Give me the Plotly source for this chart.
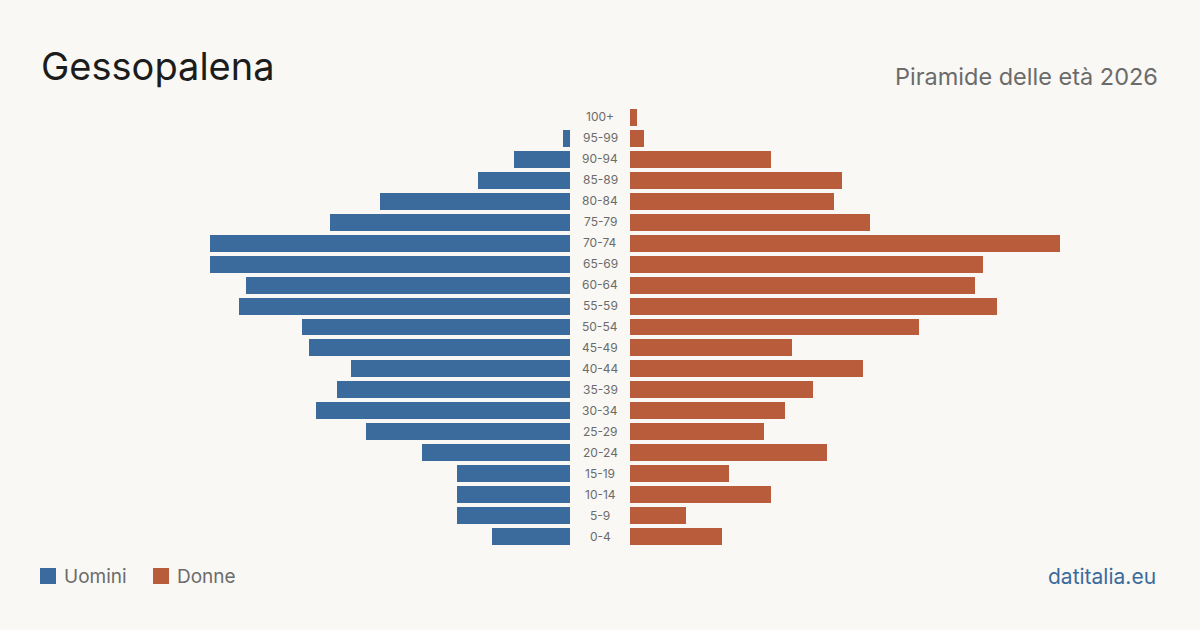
import plotly.graph_objects as go

age_groups = ["0-4", "5-9", "10-14", "15-19", "20-24", "25-29", "30-34", "35-39",
              "40-44", "45-49", "50-54", "55-59", "60-64", "65-69", "70-74",
              "75-79", "80-84", "85-89", "90-94", "95-99", "100+"]
men = [11, 16, 16, 16, 21, 29, 36, 33, 31, 37, 38, 47, 46, 51, 51, 34, 27, 13, 8, 1, 0]
women = [13, 8, 20, 14, 28, 19, 22, 26, 33, 23, 41, 52, 49, 50, 61, 34, 29, 30, 20, 2, 1]

title = "Gessopalena"
subtitle = "Piramide delle età 2026"
legend_labels = ["Uomini", "Donne"]
source = "datitalia.eu"

W, H = 1200, 630
BLUE = "#3b6b9c"
ORANGE = "#b85c3c"
BG = "#f9f8f4"
FONT = "Inter, 'Liberation Sans', sans-serif"

px_per_unit = 7.05
left_dom = (40 / W, 570 / W)
right_dom = (630 / W, 1160 / W)
rng = 530 / px_per_unit

fig = go.Figure()
fig.add_trace(go.Bar(y=age_groups, x=men, orientation="h", marker_color=BLUE,
                     marker_line_width=0,
                     width=0.81, xaxis="x", yaxis="y", name=legend_labels[0],
                     showlegend=False, hoverinfo="x+y"))
fig.add_trace(go.Bar(y=age_groups, x=women, orientation="h", marker_color=ORANGE,
                     marker_line_width=0,
                     width=0.81, xaxis="x2", yaxis="y", name=legend_labels[1],
                     showlegend=False, hoverinfo="x+y"))

y_top = 106.5
y_bot = 546.5
ydom = ((H - y_bot) / H, (H - y_top) / H)

annotations = []
for g in age_groups:
    annotations.append(dict(x=600 / W, xref="paper", y=g, yref="y", text=g,
                            showarrow=False, xanchor="center", yanchor="middle",
                            font=dict(family=FONT, size=12, color="#6b6b6b")))

annotations += [
    dict(x=39 / W, y=1 - 66 / H, xref="paper", yref="paper", text=title,
         showarrow=False, xanchor="left", yanchor="middle",
         font=dict(family=FONT, size=38, color="#1c1c1c")),
    dict(x=1160 / W, y=1 - 76 / H, xref="paper", yref="paper", text=subtitle,
         showarrow=False, xanchor="right", yanchor="middle",
         font=dict(family=FONT, size=23.5, color="#6b6b6b")),
    dict(x=62 / W, y=1 - 576 / H, xref="paper", yref="paper", text=legend_labels[0],
         showarrow=False, xanchor="left", yanchor="middle",
         font=dict(family=FONT, size=19, color="#6b6b6b")),
    dict(x=175 / W, y=1 - 576 / H, xref="paper", yref="paper", text=legend_labels[1],
         showarrow=False, xanchor="left", yanchor="middle",
         font=dict(family=FONT, size=19, color="#6b6b6b")),
    dict(x=1158 / W, y=1 - 576 / H, xref="paper", yref="paper", text=source,
         showarrow=False, xanchor="right", yanchor="middle",
         font=dict(family=FONT, size=21, color=BLUE)),
]

shapes = [
    dict(type="rect", xref="paper", yref="paper", x0=40 / W, x1=56 / W,
         y0=1 - 584 / H, y1=1 - 568 / H, fillcolor=BLUE, line=dict(width=0)),
    dict(type="rect", xref="paper", yref="paper", x0=153 / W, x1=169 / W,
         y0=1 - 584 / H, y1=1 - 568 / H, fillcolor=ORANGE, line=dict(width=0)),
]

fig.update_layout(
    width=W, height=H,
    margin=dict(l=0, r=0, t=0, b=0),
    paper_bgcolor=BG, plot_bgcolor=BG,
    bargap=0,
    xaxis=dict(domain=left_dom, range=[rng, 0], visible=False, fixedrange=True),
    xaxis2=dict(domain=right_dom, range=[0, rng], visible=False, fixedrange=True,
                anchor="y"),
    yaxis=dict(domain=ydom, range=[-0.5, len(age_groups) - 0.5], visible=False,
               type="category", categoryorder="array", categoryarray=age_groups,
               fixedrange=True),
    annotations=annotations,
    shapes=shapes,
    showlegend=False,
)

fig.write_html("out.html")
